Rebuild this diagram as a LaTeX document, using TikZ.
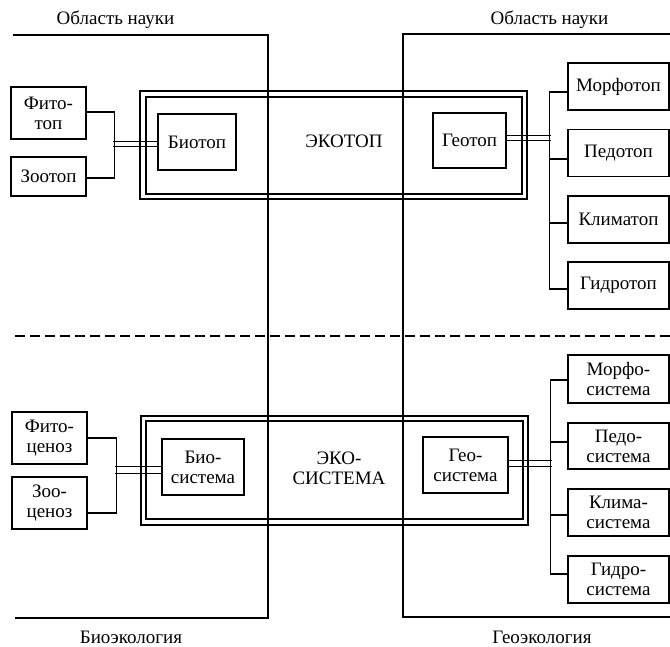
\documentclass[tikz,border=0pt]{standalone}
\usepackage{fontspec}
\setmainfont{Liberation Serif}
\begin{document}
\begin{tikzpicture}[x=1pt,y=-1pt,
  txt/.style={font=\fontsize{19}{20}\selectfont, align=center},
  box/.style={txt, draw, line width=1.5pt, inner sep=0pt},
  lbox/.style={box, minimum width=75pt},
  rbox/.style={box, minimum width=101pt, minimum height=47pt},
  frame/.style={line width=1.1pt},
  conn/.style={line width=1.4pt},
  dbl/.style={line width=1pt}]
\useasboundingbox (0,0) rectangle (670,646);

% areas of science
\draw[frame] (13,35) -- (268,35) -- (268,618) -- (15,618);
\draw[frame] (670,34) -- (403,34) -- (403,617) -- (670,617);
\node[txt] (sciL) at (115.5,20) {Область науки};
\node[txt] (sciR) at (549.5,20) {Область науки};
\node[txt] (bioeco) at (131,637) {Биоэкология};
\node[txt] (geoeco) at (542,637) {Геоэкология};

% dashed separator
\draw[line width=1.6pt, dash pattern=on 10pt off 5pt] (15,336) -- (670,336);

% ===== upper part: ecotope =====
\draw[frame] (140,91) rectangle (527,199);
\draw[frame] (146,97) rectangle (522,194);
\node[txt] (ekotop) at (344,141) {ЭКОТОП};

\node[lbox, minimum height=52pt] (fito) at (48.5,113) {Фито-\\топ};
\node[lbox, minimum height=39pt] (zoo) at (48.5,176.5) {Зоотоп};
\node[box, minimum width=78pt, minimum height=56pt] (biotop) at (197,142) {Биотоп};
\node[box, minimum width=73pt, minimum height=55pt] (geotop) at (469.5,140.5) {Геотоп};

\node[rbox] (morf) at (618.5,86.5) {Морфотоп};
\node[rbox] (ped) at (618.5,153) {Педотоп};
\node[rbox] (klim) at (618.5,219.5) {Климатоп};
\node[rbox] (gidr) at (618.5,285.5) {Гидротоп};

\draw[conn] ([yshift=1pt]fito.east) -- ++(28,0) |- ([yshift=-1.5pt]zoo.east);
\draw[dbl] ([yshift=1pt]biotop.west) -- ++(-44,0);
\draw[dbl] ([yshift=-4pt]biotop.west) -- ++(-44,0);

\draw[conn] ([yshift=-5.5pt]morf.west) -- ++(-18,0) |- ([yshift=-3.5pt]gidr.west);
\draw[conn] ([yshift=-6pt]ped.west) -- ++(-18,0);
\draw[conn] ([yshift=-3.5pt]klim.west) -- ++(-18,0);
\draw[dbl] ([yshift=5.5pt]geotop.east) -- ++(44,0);
\draw[dbl] ([yshift=0.5pt]geotop.east) -- ++(44,0);

% ===== lower part: ecosystem =====
\draw[frame] (141,416) rectangle (528,525);
\draw[frame] (146,421) rectangle (523,519);
\node[txt] (ekosys) at (339,468) {ЭКО-\\СИСТЕМА};

\node[lbox, minimum height=52pt] (fitoc) at (49.5,438) {Фито-\\ценоз};
\node[lbox, minimum height=52pt] (zooc) at (49.5,503) {Зоо-\\ценоз};
\node[box, minimum width=82pt, minimum height=56pt] (biosys) at (203,467) {Био-\\система};
\node[box, minimum width=85pt, minimum height=56pt] (geosys) at (465.5,465) {Гео-\\система};

\node[rbox, minimum height=48pt] (morfs) at (618.5,379) {Морфо-\\система};
\node[rbox, minimum height=46pt] (peds) at (618.5,446) {Педо-\\система};
\node[rbox] (klims) at (618.5,512.5) {Клима-\\система};
\node[rbox] (gidrs) at (618.5,579.5) {Гидро-\\система};

\draw[conn] (fitoc.east) -- ++(29,0) |- ([yshift=-10pt]zooc.east);
\draw[dbl] ([yshift=1pt]biosys.west) -- ++(-46,0);
\draw[dbl] ([yshift=-6pt]biosys.west) -- ++(-46,0);

\draw[conn] ([yshift=-1pt]morfs.west) -- ++(-17,0) |- ([yshift=5.5pt]gidrs.west);
\draw[conn] ([yshift=4pt]peds.west) -- ++(-17,0);
\draw[conn] ([yshift=-2.5pt]klims.west) -- ++(-17,0);
\draw[dbl] ([yshift=5pt]geosys.east) -- ++(43,0);
\draw[dbl] ([yshift=-1pt]geosys.east) -- ++(43,0);
\end{tikzpicture}
\end{document}
